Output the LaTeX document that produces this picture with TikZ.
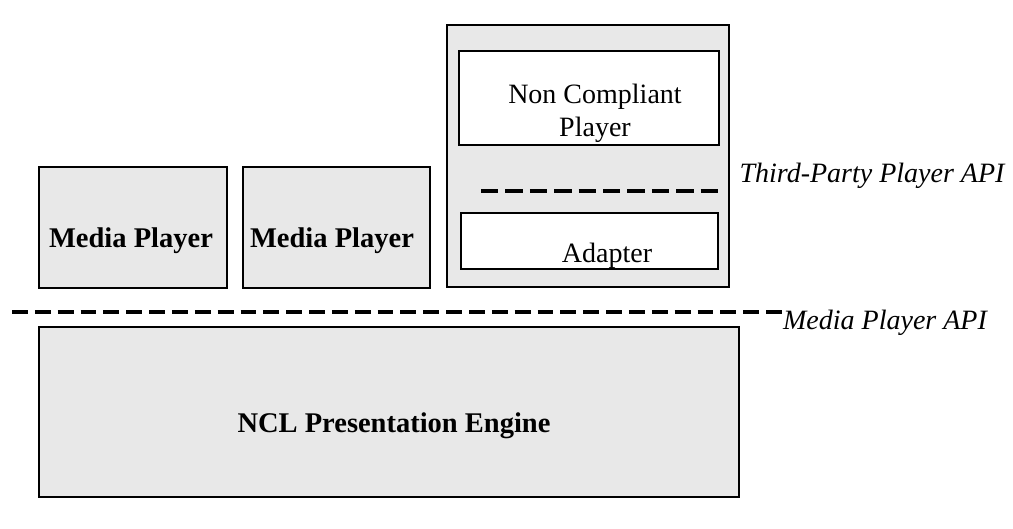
\documentclass[tikz,border=0pt]{standalone}
\usepackage{fontspec}
\setmainfont{Liberation Serif}
\usetikzlibrary{positioning}

\definecolor{boxgray}{HTML}{E8E8E8}
\tikzset{
	box/.style={draw=black,fill=boxgray,line width=1.5pt},
	innerbox/.style={draw=black,fill=white,line width=1.5pt},
	apiline/.style={line width=3.5pt,dash pattern=on 15.85pt off 7pt},
	label/.style={inner sep=0pt,font=\fontsize{28}{33}\selectfont},
	boldlabel/.style={inner sep=0pt,font=\fontsize{28.5}{33}\selectfont\bfseries},
	apilabel/.style={inner sep=0pt,font=\fontsize{28}{33}\selectfont\itshape},
}

\begin{document}
\begin{tikzpicture}[x=1pt,y=-1pt]
	\useasboundingbox (0,0) rectangle (1013,529);
	
	% MEDIA PLAYERS
	\draw[box] (39,167) rectangle (227,288);
	\node[boldlabel,anchor=base] (mp1) at (131,248) {Media Player};
	
	\draw[box] (243,167) rectangle (430,288);
	\node[boldlabel,anchor=base] (mp2) at (332,248) {Media Player};
	
	% THIRD-PARTY PLAYER
	\draw[box] (447,25) rectangle (729,287);
	\draw[innerbox] (459,51) rectangle (719,145);
	\node[label,align=center] (ncp) at (595,113) {Non Compliant\\Player};
	
	\draw[apiline,line width=4pt,dash pattern=on 17.4pt off 7pt] (481,191) -- (718,191);
	\node[apilabel,anchor=base] (tpapi) at (872,183) {Third-Party Player API};
	
	\draw[innerbox] (461,213) rectangle (718,269);
	\node[label,anchor=base] (adapter) at (607,263) {Adapter};
	
	% MEDIA PLAYER API
	\draw[apiline] (12,312) -- (782,312);
	\node[apilabel,anchor=base] (mpapi) at (885,330) {Media Player API};
	
	% PRESENTATION ENGINE
	\draw[box] (39,327) rectangle (739,497);
	\node[boldlabel,anchor=base] (engine) at (394,432) {NCL Presentation Engine};
\end{tikzpicture}
\end{document}
